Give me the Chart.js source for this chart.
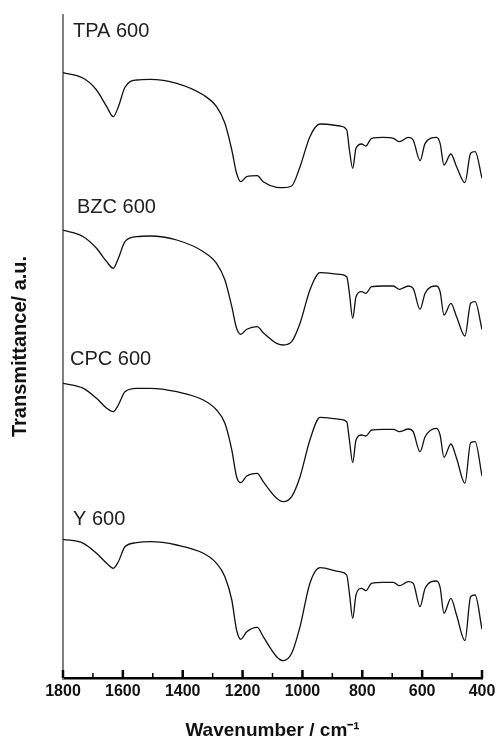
<!DOCTYPE html>
<html>
<head>
<meta charset="utf-8">
<script src="https://cdn.jsdelivr.net/npm/chart.js@4"></script>
<style>
  html, body { margin: 0; padding: 0; background: #fff; }
  #chart { display: block; }
</style>
</head>
<body>
<canvas id="chart" width="500" height="742"></canvas>
<script>
// wavenumbers (cm-1)
const wavenumbers = [1800, 1732, 1688, 1654, 1632, 1615, 1593, 1554, 1509, 1420, 1331, 1287, 1259, 1236,
    1220, 1206, 1186, 1151, 1131, 1086, 1064, 1036, 1008, 975, 941, 875, 852, 843, 832, 821, 802, 788,
    769, 730, 696, 676, 646, 630, 607, 590, 552, 540, 527, 504, 485, 457, 438, 423, 400]

// transmittance, arbitrary units (spectra stacked)
const tpa600 = [604.3, 598.7, 587, 570.3, 560.3, 570.3, 589.7, 597, 597.7, 593.7, 582, 570.3, 553.7, 527,
    503.7, 495.3, 500.3, 501.3, 495.3, 489.7, 489.3, 491, 510.3, 540.3, 553, 551, 547, 527, 508.7, 528.7,
    533, 531, 538.7, 539.7, 538.7, 535.3, 539.7, 537, 516.3, 533.7, 539.7, 533.7, 512, 523, 510.3, 494.3,
    523.7, 525.3, 498.7]
const bzc600 = [447, 440.3, 428.7, 415.3, 408.7, 418.7, 435.3, 440.3, 441, 437, 425.3, 413.7, 397, 370.3,
    348.7, 342.7, 347.7, 350.3, 344.3, 333.7, 332, 335.3, 353.7, 387, 404.3, 402.7, 400.3, 383.7, 358.7,
    380.3, 385.3, 383.7, 390.3, 391, 391, 387.7, 391, 388.7, 367.7, 383.7, 391, 385.3, 362, 373.7, 360.3,
    341, 373.7, 375.3, 347.7]
const cpc600 = [293.7, 288.7, 278.7, 268.7, 265.3, 272, 285.3, 288.7, 288.7, 285.3, 277, 267, 253.7, 227,
    200.3, 194.3, 201, 203.7, 195.3, 178.7, 175.3, 180.3, 200.3, 237, 259.7, 257.7, 255.3, 237, 214.3, 237,
    242, 241, 247, 247.7, 247.7, 245.3, 248, 245.3, 225.3, 240.3, 248.7, 242, 219.7, 233, 218.7, 193.7,
    234.3, 235.3, 201]
const y600 = [137.7, 133.7, 123.7, 113.7, 108.7, 115.3, 130.3, 134.3, 135.3, 132, 123.7, 113.7, 100.3, 77,
    47, 37.7, 45.3, 49.7, 40.3, 20.3, 16.3, 23.7, 50.3, 93.7, 109.3, 105.3, 102, 83.7, 58.7, 82, 88.7, 86.3,
    93.7, 94.7, 94.7, 91.3, 95.3, 93.7, 70.3, 88.7, 96, 89.7, 63.7, 78.7, 62, 36.3, 80.3, 82, 47.7]

const seriesNames = ['TPA 600', 'BZC 600', 'CPC 600', 'Y 600']
const seriesValues = [tpa600, bzc600, cpc600, y600]

const xTickLabels = [1800, 1600, 1400, 1200, 1000, 800, 600, 400]

function toPoints(values) {
    return values.map((v, i) => ({ x: wavenumbers[i], y: v }))
}

// inward tick marks on the x axis
const innerTicks = {
    id: 'innerTicks',
    afterDraw(chart) {
        const ctx = chart.ctx
        const xScale = chart.scales.x
        const bottom = chart.chartArea.bottom
        ctx.save()
        ctx.strokeStyle = '#000'
        xScale.ticks.forEach(t => {
            const px = xScale.getPixelForValue(t.value)
            const major = t.value % 200 === 0
            ctx.lineWidth = major ? 2.5 : 1.5
            ctx.beginPath()
            ctx.moveTo(px, bottom)
            ctx.lineTo(px, bottom - (major ? 8 : 5))
            ctx.stroke()
        })
        ctx.restore()
    }
}

// sample names above each spectrum
const seriesLabels = {
    id: 'seriesLabels',
    afterDatasetsDraw(chart) {
        const ctx = chart.ctx
        const spots = [[73, 37], [77, 213], [70, 365], [73, 525]]
        ctx.save()
        ctx.fillStyle = '#222'
        ctx.font = '20px "Liberation Sans", Arial, sans-serif'
        ctx.textBaseline = 'alphabetic'
        seriesNames.forEach((name, i) => {
            ctx.fillText(name, spots[i][0], spots[i][1])
        })
        ctx.restore()
    }
}

const ctx = document.getElementById('chart')
new Chart(ctx, {
    type: 'line',
    data: {
        datasets: seriesValues.map((vals, i) => ({
            label: seriesNames[i],
            data: toPoints(vals),
            borderColor: '#111',
            borderWidth: 1.3,
            pointRadius: 0,
            fill: false,
            cubicInterpolationMode: 'monotone'
        }))
    },
    options: {
        responsive: false,
        animation: false,
        layout: { padding: { top: 15, right: 18, left: 0, bottom: 0 } },
        plugins: {
            legend: { display: false },
            tooltip: { enabled: false }
        },
        scales: {
            x: {
                type: 'linear',
                reverse: true,
                min: 400,
                max: 1800,
                afterFit: s => { s.height = 64 },
                grid: { display: false, drawTicks: false },
                border: { display: true, color: '#000', width: 2.5 },
                ticks: {
                    stepSize: 100,
                    autoSkip: false,
                    maxRotation: 0,
                    padding: 4,
                    color: '#111',
                    font: { family: '"Liberation Sans", Arial, sans-serif', size: 16, weight: 'bold' },
                    callback: v => xTickLabels.includes(v) ? String(v) : ''
                },
                title: {
                    display: true,
                    text: 'Wavenumber / cm\u207B\u00B9',
                    color: '#111',
                    padding: 0,
                    font: { family: '"Liberation Sans", Arial, sans-serif', size: 19, weight: 'bold' }
                }
            },
            y: {
                min: -1,
                max: 662,
                afterFit: s => { s.width = 63 },
                grid: { display: false, drawTicks: false },
                border: { display: true, color: '#808080', width: 2 },
                ticks: { display: false },
                title: {
                    display: true,
                    text: 'Transmittance/ a.u.',
                    color: '#111',
                    padding: { top: 8, bottom: 0 },
                    font: { family: '"Liberation Sans", Arial, sans-serif', size: 20, weight: 'bold' }
                }
            }
        }
    },
    plugins: [innerTicks, seriesLabels]
})
</script>
</body>
</html>
